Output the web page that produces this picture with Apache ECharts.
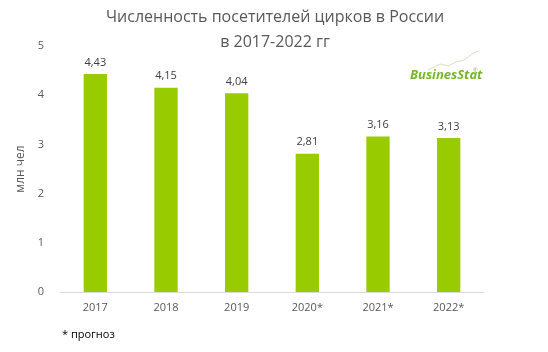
<!DOCTYPE html>
<html>
<head>
<meta charset="utf-8">
<script src="https://cdn.jsdelivr.net/npm/echarts@6/dist/echarts.min.js"></script>
<style>
  html, body { margin: 0; padding: 0; background: #fff; }
  #chart { width: 548px; height: 352px; }
</style>
</head>
<body>
<div id="chart"></div>
<script>
const years = ['2017', '2018', '2019', '2020*', '2021*', '2022*']
const visitors = [4.43, 4.15, 4.04, 2.81, 3.16, 3.13]

const chart = echarts.init(document.getElementById('chart'))

chart.setOption({
  backgroundColor: '#fff',
  textStyle: { fontFamily: 'Open Sans, Noto Sans, sans-serif' },
  title: {
    text: 'Численность посетителей цирков в России\nв 2017-2022 гг',
    left: 270,
    textAlign: 'center',
    top: 0,
    textStyle: {
      color: '#595959',
      fontSize: 16,
      fontWeight: 'normal',
      lineHeight: 25,
    },
  },
  grid: {
    left: 60,
    right: 64,
    top: 46,
    bottom: 60,
  },
  xAxis: {
    type: 'category',
    data: years,
    axisLine: { lineStyle: { color: '#d9d9d9' } },
    axisTick: { show: false },
    axisLabel: { color: '#595959', fontSize: 11, margin: 10 },
  },
  yAxis: {
    type: 'value',
    min: 0,
    max: 5,
    interval: 1,
    name: 'млн чел',
    nameLocation: 'middle',
    nameRotate: 90,
    nameGap: 30,
    nameTextStyle: { color: '#595959', fontSize: 12 },
    axisLine: { show: false },
    axisTick: { show: false },
    splitLine: { show: false },
    axisLabel: { color: '#595959', fontSize: 11, margin: 16 },
  },
  series: [
    {
      type: 'bar',
      data: visitors,
      barWidth: '33%',
      itemStyle: { color: '#99cc00' },
      label: {
        show: true,
        position: 'top',
        distance: 6,
        color: '#404040',
        fontSize: 11,
        formatter: (p) => p.value.toFixed(2).replace('.', ','),
      },
    },
  ],
  graphic: [
    {
      type: 'text',
      left: 62,
      top: 329,
      style: { text: '* прогноз', fill: '#000', fontSize: 11, fontFamily: 'Open Sans, sans-serif' },
    },
    {
      type: 'polyline',
      shape: { points: [[428, 70], [440, 64], [448, 66], [456, 62], [464, 60], [472, 54], [478, 51]] },
      style: { stroke: '#d5e2c2', lineWidth: 1, fill: null },
    },
    {
      type: 'text',
      left: 410,
      top: 69,
      style: {
        text: 'BusinesStat',
        fill: '#77b82a',
        fontSize: 13,
        fontWeight: 'bold',
        fontStyle: 'italic',
        fontFamily: 'Open Sans, sans-serif',
      },
    },
    {
      type: 'text',
      left: 473,
      top: 67,
      style: { text: '®', fill: '#77b82a', fontSize: 6 },
    },
  ],
})
</script>
</body>
</html>
